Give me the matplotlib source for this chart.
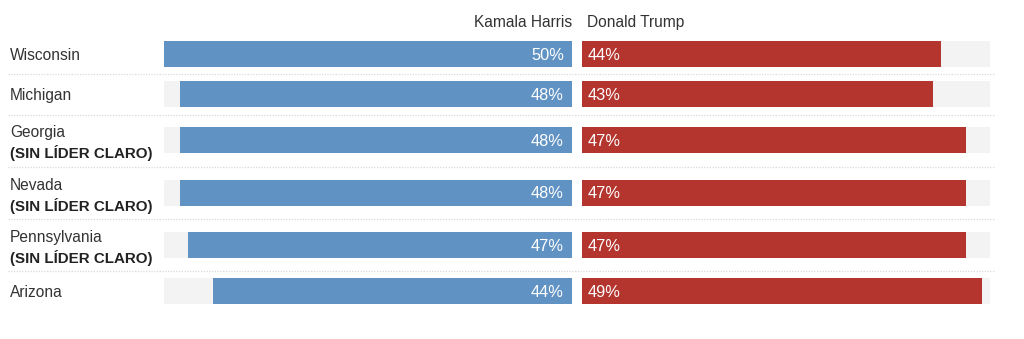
import matplotlib
matplotlib.use("Agg")
import matplotlib.pyplot as plt

# ---- data ----
states = ["Wisconsin", "Michigan", "Georgia", "Nevada", "Pennsylvania", "Arizona"]
subtitles = ["", "", "(SIN LÍDER CLARO)", "(SIN LÍDER CLARO)", "(SIN LÍDER CLARO)", ""]
harris = [50, 48, 48, 48, 47, 44]
trump = [44, 43, 47, 47, 47, 49]
candidates = ["Kamala Harris", "Donald Trump"]
scale_max = 50

# ---- style / layout ----
W, H = 1024, 339
BLUE = "#6092c3"
RED = "#b3352e"
BG = "#f3f3f3"
TXT = "#333333"
FONT = ["Liberation Sans", "DejaVu Sans"]
FS = 11.2
FS_PCT = 11.8

plt.rcParams["font.family"] = FONT

fig = plt.figure(figsize=(W / 100, H / 100), dpi=100)
fig.patch.set_facecolor("white")

# bar centers in pixel rows (layout)
centers = [53.5, 94, 140, 192.5, 245, 291]
bar_h = 26
seps = [74, 114.5, 167, 218.5, 271]

def px_ax(x0, x1):
    ax = fig.add_axes([x0 / W, 0, (x1 - x0) / W, 1])
    ax.set_ylim(H, 0)
    ax.axis("off")
    return ax

axL = px_ax(164, 572)
axL.set_xlim(scale_max, 0)
axR = px_ax(582, 990)
axR.set_xlim(0, scale_max)

axL.barh(centers, [scale_max] * len(centers), height=bar_h, color=BG, linewidth=0)
axL.barh(centers, harris, height=bar_h, color=BLUE, linewidth=0)
axR.barh(centers, [scale_max] * len(centers), height=bar_h, color=BG, linewidth=0)
axR.barh(centers, trump, height=bar_h, color=RED, linewidth=0)

for c, h, t in zip(centers, harris, trump):
    axL.text(1.0, c + 6, f"{h}%", ha="right", va="baseline", color="white", fontsize=FS_PCT)
    axR.text(0.65, c + 6, f"{t}%", ha="left", va="baseline", color="white", fontsize=FS_PCT)

axL.text(0.0, 27, candidates[0], ha="right", va="baseline", color=TXT, fontsize=FS)
axR.text(0.6, 27, candidates[1], ha="left", va="baseline", color=TXT, fontsize=FS)

# overlay axes in pixel coords for labels and separators
ov = fig.add_axes([0, 0, 1, 1])
ov.set_xlim(0, W)
ov.set_ylim(H, 0)
ov.axis("off")
ov.patch.set_alpha(0)

for c, s, sub in zip(centers, states, subtitles):
    if sub:
        ov.text(10, c - 2.7, s, ha="left", va="baseline", color=TXT, fontsize=FS)
        ov.text(10, c + 18.3, sub, ha="left", va="baseline", color="#222222",
                fontsize=FS - 0.3, fontweight="bold")
    else:
        ov.text(10, c + 6, s, ha="left", va="baseline", color=TXT, fontsize=FS)

for y in seps:
    ov.plot([8, 995], [y, y], color="#dadada", linewidth=0.9, linestyle=(0, (1, 1.2)))

fig.savefig("out.png", dpi=100, facecolor="white")
